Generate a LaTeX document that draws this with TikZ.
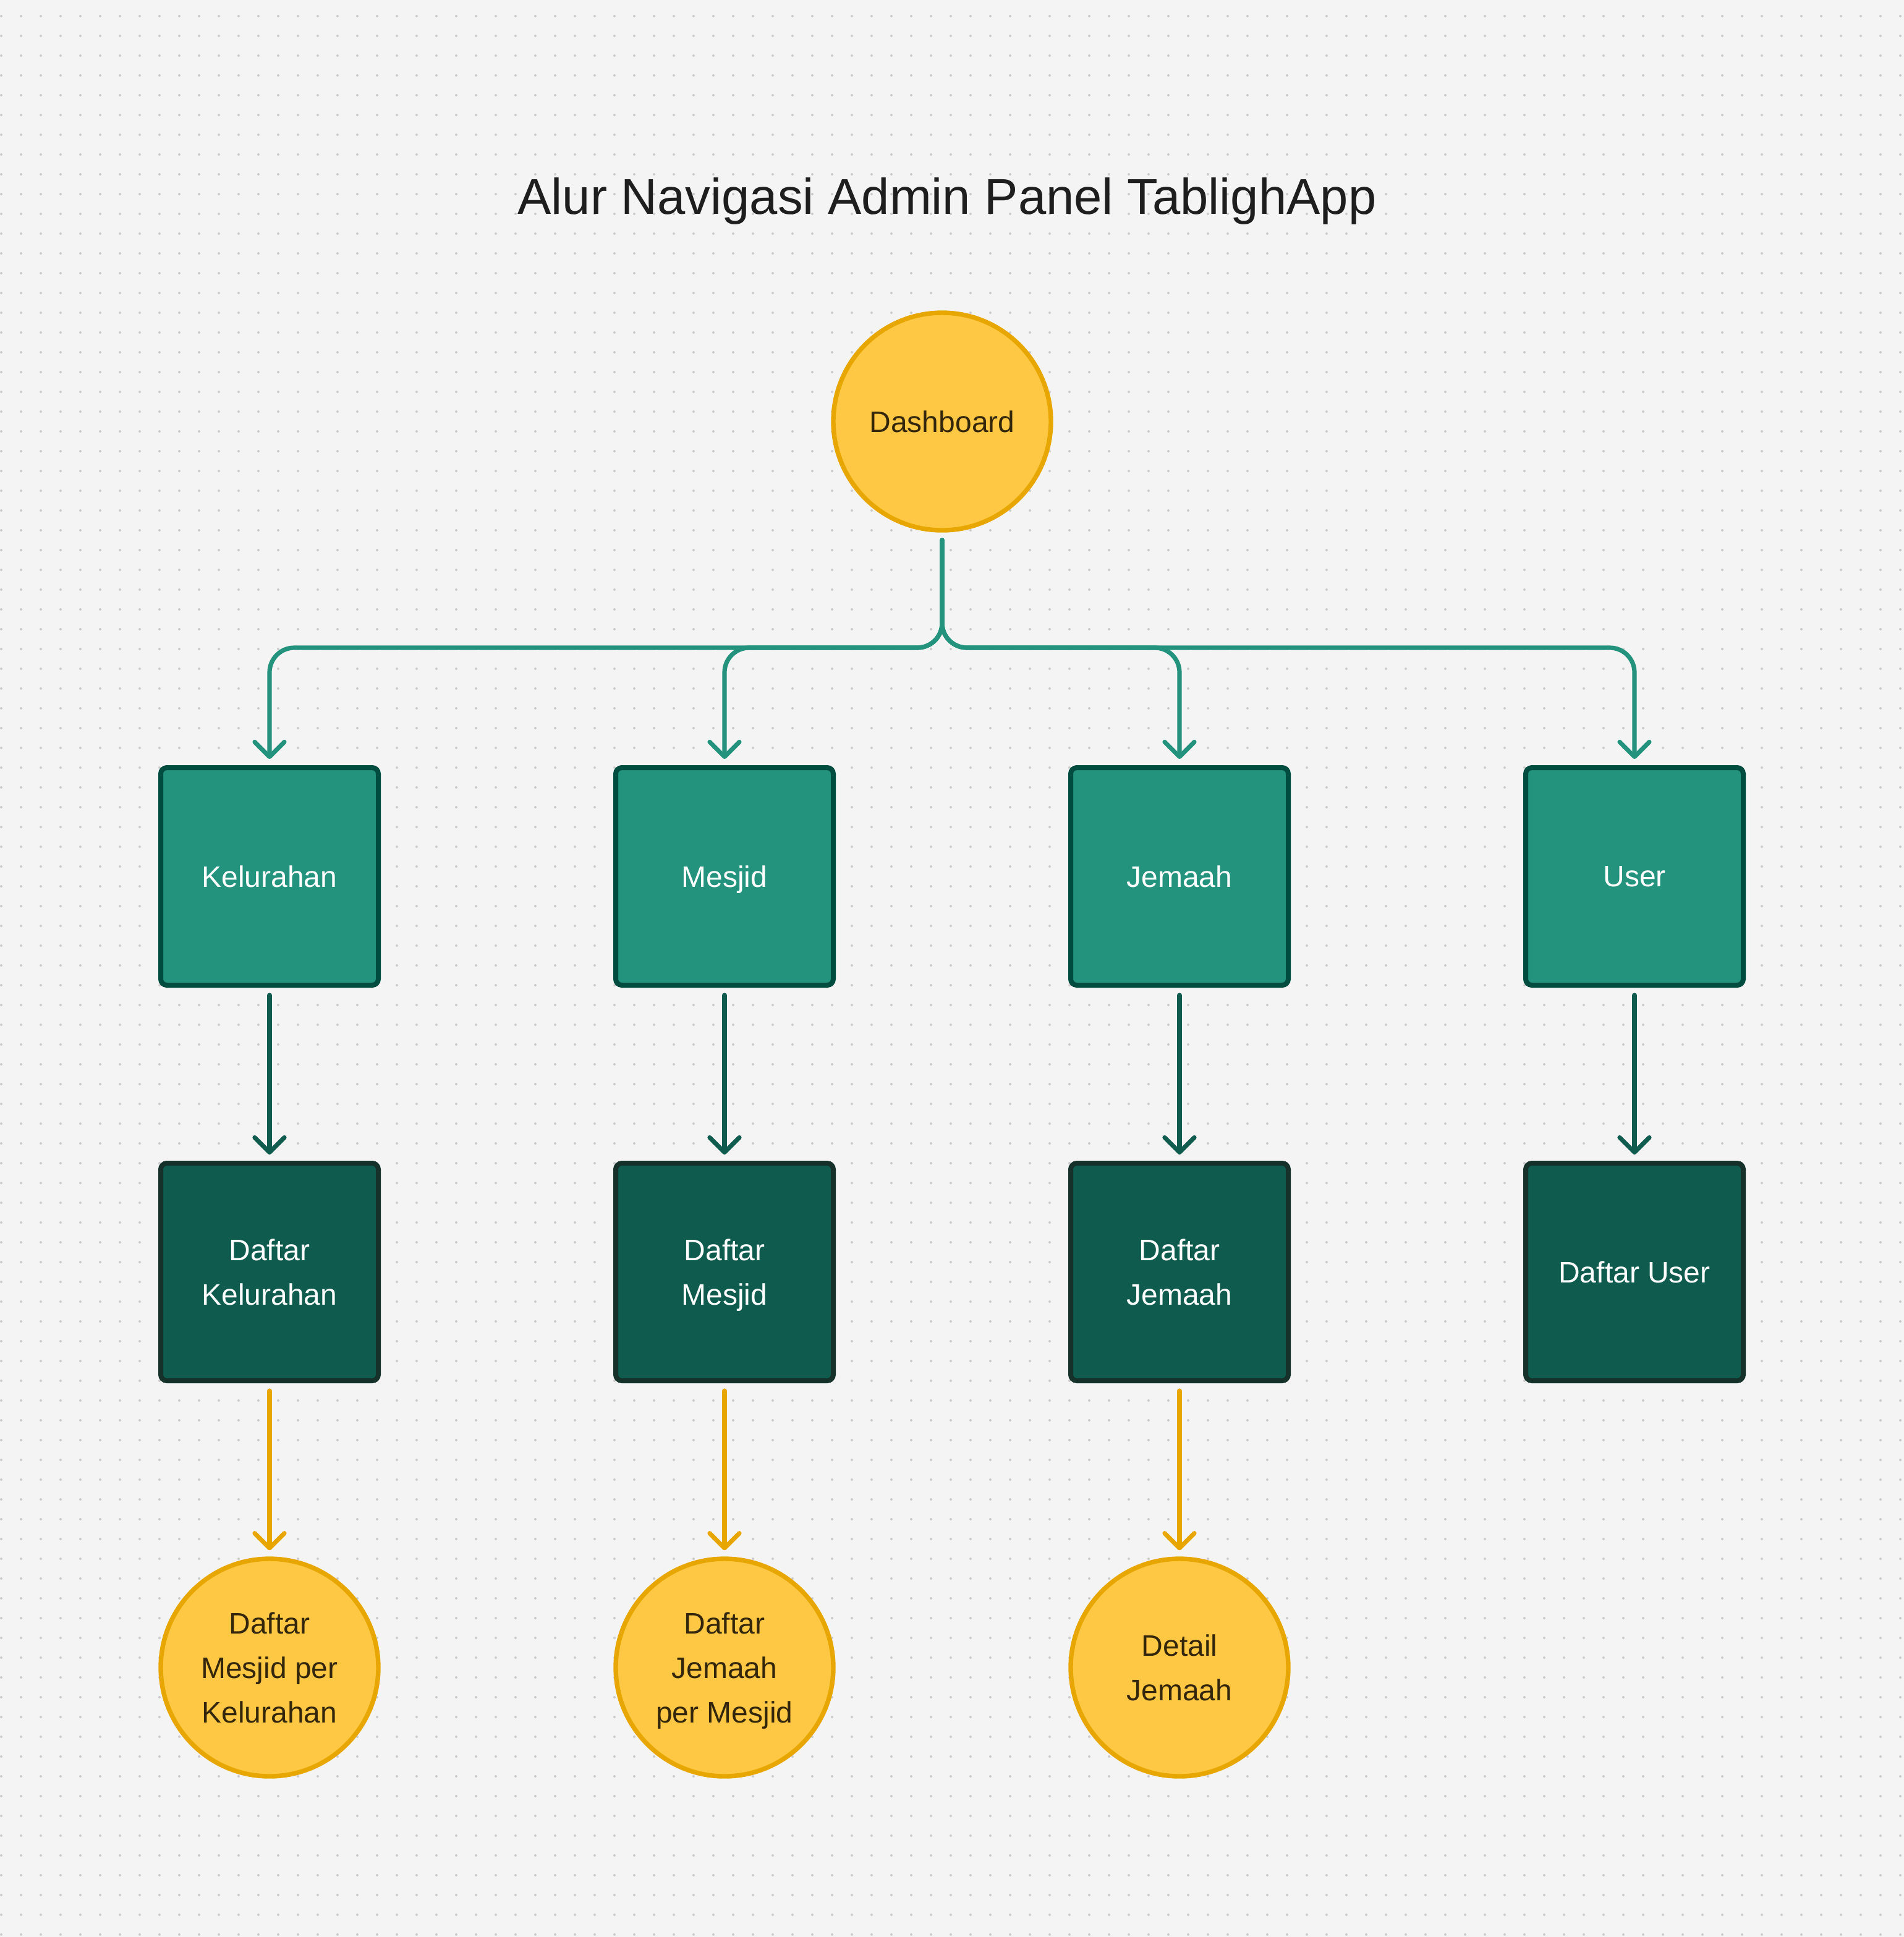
\documentclass[tikz,border=0pt]{standalone}
\usepackage{fontspec}
\setmainfont{Liberation Sans}
\usetikzlibrary{arrows.meta}
\definecolor{bgpaper}{HTML}{F4F4F4}
\definecolor{griddot}{HTML}{CCCCCC}
\definecolor{sunfill}{HTML}{FEC844}
\definecolor{sunline}{HTML}{E8A600}
\definecolor{sunink}{HTML}{33260A}
\definecolor{tealfill}{HTML}{23937D}
\definecolor{tealline}{HTML}{004D40}
\definecolor{pinefill}{HTML}{0F5C4F}
\definecolor{pineline}{HTML}{16302A}
\definecolor{titleink}{HTML}{1E1E1E}

\begin{document}
\begin{tikzpicture}[x = 1pt, y = -1pt]
        \tikzset{dotrow/.style = {griddot, line width=2pt, line cap=round, dash pattern=on 0pt off 16pt}}
        \tikzset{circ/.style = {shape=circle, draw=sunline, fill=sunfill, line width=3.7pt, minimum size=176pt, inner sep=0pt, text=sunink, align=center, text depth=0pt, font=\fontsize{24}{36}\selectfont}}
        \tikzset{menu/.style = {shape=rectangle, rounded corners=5pt, draw=tealline, fill=tealfill, line width=4pt, minimum size=176pt, inner sep=0pt, text=white, align=center, text depth=0pt, font=\fontsize{24}{36}\selectfont}}
        \tikzset{list/.style = {menu, draw=pineline, fill=pinefill}}
        \tikzset{edge/.style = {line width=3.6pt, line cap=round, -{Straight Barb[length=12pt, width=24pt, round]}, shorten <=6pt, shorten >=5pt}}
        \tikzset{branch/.style = {edge, tealfill, rounded corners=20pt}}
        % paper
        \fill[bgpaper] (0,0) rectangle (1540,1567);
        \useasboundingbox (0,0) rectangle (1540,1567);
        \foreach \y in {13,29,...,1565}
            \draw[dotrow] (1,\y) -- (1541,\y);
        % title
        \node[font=\fontsize{40.7}{48}\selectfont, text=titleink, anchor=base] (title) at (766,173) {Alur Navigasi Admin Panel TablighApp};
        % vertices
        \node[circ] (dash) at (762,341) {Dashboard};
        \node[menu] (kel) at (218,709) {Kelurahan};
        \node[menu] (mes) at (586,709) {Mesjid};
        \node[menu] (jem) at (954,709) {Jemaah};
        \node[menu] (usr) at (1322,709) {User};
        \node[list] (dkel) at (218,1029) {Daftar\\Kelurahan};
        \node[list] (dmes) at (586,1029) {Daftar\\Mesjid};
        \node[list] (djem) at (954,1029) {Daftar\\Jemaah};
        \node[list] (dusr) at (1322,1029) {Daftar User};
        \node[circ] (mkel) at (218,1349) {Daftar\\Mesjid per\\Kelurahan};
        \node[circ] (jmes) at (586,1349) {Daftar\\Jemaah\\per Mesjid};
        \node[circ] (detj) at (954,1349) {Detail\\Jemaah};
        \coordinate (split) at (762,524);
        %edges
        \draw[branch] (dash) -- (split) -| (kel);
        \draw[branch] (dash) -- (split) -| (mes);
        \draw[branch] (dash) -- (split) -| (jem);
        \draw[branch] (dash) -- (split) -| (usr);
        \draw[edge, pinefill] (kel) to (dkel);
        \draw[edge, pinefill] (mes) to (dmes);
        \draw[edge, pinefill] (jem) to (djem);
        \draw[edge, pinefill] (usr) to (dusr);
        \draw[edge, sunline] (dkel) to (mkel);
        \draw[edge, sunline] (dmes) to (jmes);
        \draw[edge, sunline] (djem) to (detj);
\end{tikzpicture}
\end{document}
